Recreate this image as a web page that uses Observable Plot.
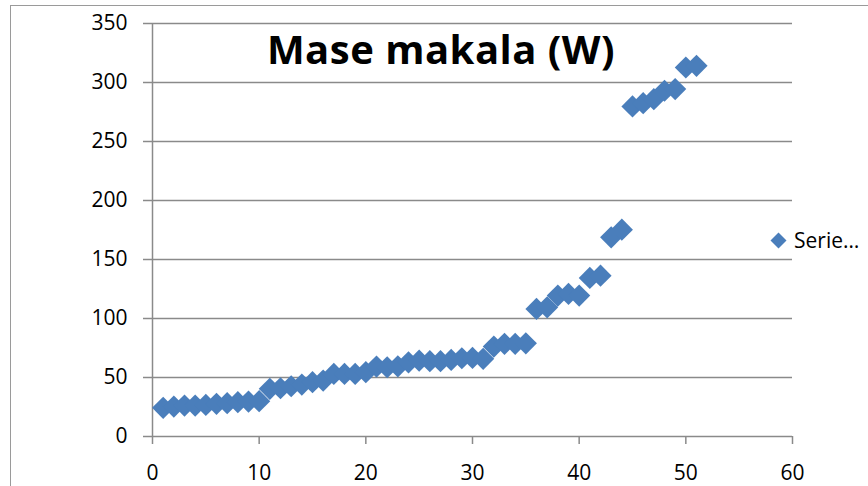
<!DOCTYPE html>
<html>
<head>
<meta charset="utf-8">
<script src="https://cdn.jsdelivr.net/npm/d3@7"></script>
<script src="https://cdn.jsdelivr.net/npm/@observablehq/plot@0.6"></script>
<style>
  html, body { margin: 0; padding: 0; background: #fff; }
  #wrap { position: relative; width: 868px; height: 486px; overflow: hidden; font-family: "Open Sans", sans-serif; }
  #frame { position: absolute; left: 10px; top: 5px; width: 870px; height: 500px; border-left: 1.5px solid #9a9a9a; border-top: 1.5px solid #9a9a9a; box-sizing: border-box; pointer-events: none; }
  #title { position: absolute; left: 0; width: 882px; top: 29px; text-align: center; font-weight: 700; font-size: 40px; letter-spacing: 0.5px; color: #000; line-height: 1; }
  #legend { position: absolute; left: 768px; top: 226px; font-size: 21px; color: #000; display: flex; align-items: center; white-space: nowrap; }
  #legend svg { margin-right: 5px; }
</style>
</head>
<body>
<div id="wrap">
  <div id="chart"></div>
  <div id="frame"></div>
  <div id="title">Mase makala (W)</div>
  <div id="legend"><svg width="21" height="21"><path d="M10.5,2.5 L18.5,10.5 L10.5,18.5 L2.5,10.5 Z" fill="#4a7ebb"/></svg><span>Serie…</span></div>
</div>
<script>
const xValues = [1,2,3,4,5,6,7,8,9,10,11,12,13,14,15,16,17,18,19,20,21,22,23,24,25,26,27,28,29,30,31,32,33,34,35,36,37,38,39,40,41,42,43,44,45,46,47,48,49,50,51];
const yValues = [24.3,25.4,26.2,26.2,26.8,27.7,28.2,29.1,29.6,29.9,40.4,40.9,42.6,44,46,47.4,53,53,53,54.5,59.3,58.7,59.5,62.9,64.3,63.8,63.8,64.9,66.3,66.6,65.8,76.2,78.5,78.5,79,108.1,109.5,119.4,120.8,119.4,134.4,136.3,168.8,175.3,279.7,282.5,285.9,293,294.4,312.7,314.1];
const xTicks = [0,10,20,30,40,50,60];
const yTicks = [0,50,100,150,200,250,300,350];

const data = xValues.map((x, i) => ({x, y: yValues[i]}));
const gridColor = "#8a8a8a";

const chart = Plot.plot({
  width: 868,
  height: 486,
  marginLeft: 152,
  marginRight: 76,
  marginTop: 23,
  marginBottom: 50,
  style: { fontFamily: "'Open Sans', sans-serif", fontSize: "21px", color: "#000", background: "transparent" },
  x: { domain: [0, 60], ticks: xTicks },
  y: { domain: [0, 350], ticks: yTicks },
  marks: [
    Plot.ruleY(yTicks, { stroke: gridColor, strokeWidth: 1.5 }),
    Plot.ruleX([0], { stroke: gridColor, strokeWidth: 1.5 }),
    Plot.axisY(yTicks, { tickSize: 9, stroke: gridColor, strokeWidth: 1.5, tickFormat: () => "", label: null }),
    Plot.axisY(yTicks, { tickSize: 0, tickPadding: 25, fill: "#000", label: null }),
    Plot.axisX(xTicks, { tickSize: 8, stroke: gridColor, strokeWidth: 1.5, tickFormat: () => "", label: null }),
    Plot.axisX(xTicks, { tickSize: 0, tickPadding: 29, fill: "#000", label: null }),
    Plot.dot(data, { x: "x", y: "y", symbol: "diamond2", r: 10, fill: "#4a7ebb", stroke: null })
  ]
});
document.getElementById("chart").appendChild(chart);
</script>
</body>
</html>
